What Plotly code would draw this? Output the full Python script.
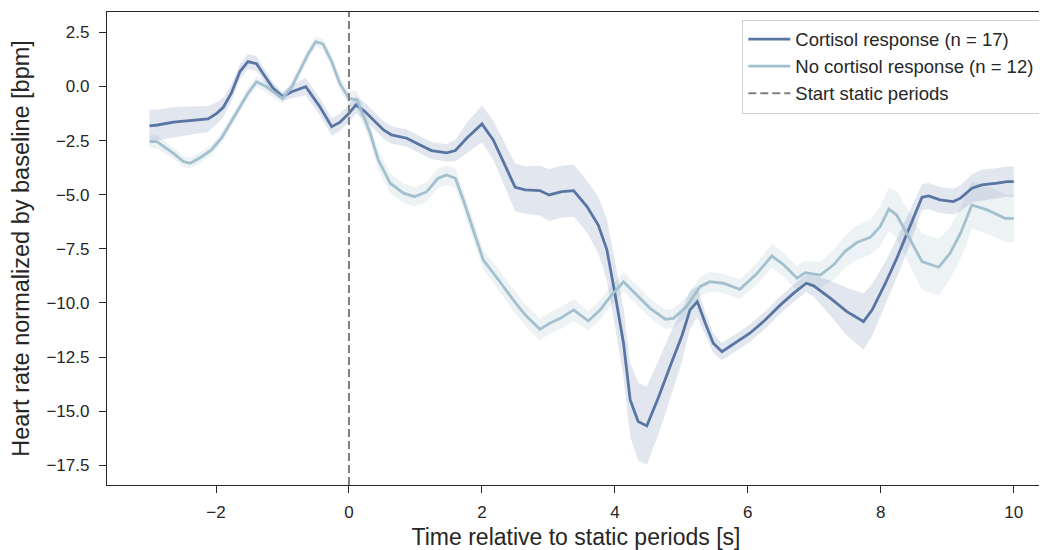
import plotly.graph_objects as go

# ---- data ----
t_cort = [-3.0, -2.88, -2.64, -2.39, -2.12, -1.99, -1.89, -1.77, -1.64, -1.52, -1.39, -1.26, -1.14, -1.0,
          -0.86, -0.65, -0.44, -0.26, -0.14, 0.0, 0.105, 0.24, 0.37, 0.52, 0.64, 0.87, 1.07, 1.24, 1.47,
          1.60, 1.77, 2.0, 2.17, 2.32, 2.50, 2.65, 2.87, 3.01, 3.20, 3.38, 3.58, 3.75, 3.88, 4.0, 4.13,
          4.23, 4.35, 4.48, 4.65, 4.83, 5.01, 5.13, 5.24, 5.36, 5.48, 5.61, 5.81, 6.03, 6.26, 6.49, 6.69,
          6.88, 6.99, 7.24, 7.49, 7.74, 7.87, 8.07, 8.24, 8.44, 8.62, 8.72, 8.89, 9.09, 9.20, 9.37, 9.52,
          9.75, 9.90, 10.0]
v_cort = [-1.82, -1.78, -1.65, -1.58, -1.50, -1.24, -0.96, -0.31, 0.69, 1.15, 1.05, 0.45, -0.08, -0.47,
          -0.24, -0.01, -0.93, -1.86, -1.66, -1.24, -0.85, -1.16, -1.55, -2.01, -2.24, -2.39, -2.70, -2.96, -3.07,
          -2.96, -2.39, -1.73, -2.47, -3.45, -4.66, -4.78, -4.81, -5.01, -4.86, -4.81, -5.55, -6.40, -7.55, -9.55, -11.86,
          -14.48, -15.48, -15.68, -14.40, -12.94, -11.50, -10.32, -9.94, -10.94, -11.86, -12.25, -11.86, -11.40, -10.79, -10.09, -9.55,
          -9.09, -9.21, -9.78, -10.40, -10.86, -10.32, -9.09, -7.94, -6.48, -5.12, -5.06, -5.24, -5.32, -5.16, -4.70, -4.55,
          -4.47, -4.40, -4.40]
ci_cort = [0.75, 0.7, 0.7, 0.65, 0.6, 0.5, 0.45, 0.4, 0.35, 0.35, 0.35, 0.3, 0.25, 0.2,
           0.3, 0.4, 0.4, 0.4, 0.4, 0.4, 0.4, 0.4, 0.4, 0.4, 0.4, 0.4, 0.4, 0.4, 0.4,
           0.5, 0.7, 0.85, 0.9, 1.0, 1.1, 1.1, 1.15, 1.2, 1.2, 1.2, 1.2, 1.3, 1.4, 1.5, 1.6,
           1.7, 1.8, 1.8, 1.7, 1.5, 1.2, 0.9, 0.7, 0.5, 0.45, 0.4, 0.4, 0.4, 0.4, 0.4, 0.4,
           0.4, 0.5, 0.8, 1.1, 1.3, 1.2, 1.0, 0.9, 0.8, 0.6, 0.6, 0.6, 0.6, 0.6, 0.65, 0.7,
           0.7, 0.7, 0.7]

t_nocort = [-3.0, -2.89, -2.64, -2.49, -2.39, -2.24, -2.07, -1.92, -1.77, -1.64, -1.52, -1.39, -1.26, -1.14,
            -1.0, -0.86, -0.74, -0.61, -0.50, -0.39, -0.26, -0.14, 0.0, 0.12, 0.32, 0.44, 0.62, 0.82, 0.99,
            1.17, 1.34, 1.47, 1.60, 1.72, 1.87, 2.02, 2.27, 2.47, 2.65, 2.87, 3.02, 3.18, 3.38, 3.60, 3.78,
            3.93, 4.13, 4.33, 4.53, 4.76, 4.88, 5.08, 5.28, 5.43, 5.63, 5.88, 6.14, 6.36, 6.54, 6.74, 6.86,
            7.09, 7.29, 7.46, 7.64, 7.84, 7.99, 8.12, 8.24, 8.39, 8.62, 8.87, 9.04, 9.20, 9.37, 9.60, 9.87, 10.0]
v_nocort = [-2.55, -2.55, -3.09, -3.47, -3.55, -3.29, -2.93, -2.39, -1.62, -0.93, -0.31, 0.22, 0.02, -0.24,
            -0.55, -0.01, 0.76, 1.53, 2.07, 1.96, 1.15, 0.15, -0.55, -0.62, -2.16, -3.39, -4.47, -4.93, -5.09,
            -4.86, -4.24, -4.09, -4.24, -5.24, -6.63, -8.01, -9.02, -9.86, -10.55, -11.22, -10.94, -10.71, -10.32, -10.83, -10.32,
            -9.71, -9.02, -9.63, -10.25, -10.75, -10.71, -10.17, -9.25, -9.02, -9.09, -9.37, -8.63, -7.83, -8.24, -8.86, -8.60,
            -8.71, -8.24, -7.63, -7.21, -6.97, -6.48, -5.67, -5.94, -6.78, -8.09, -8.35, -7.71, -6.78, -5.47, -5.70, -6.09, -6.09]
ci_nocort = [0.3, 0.3, 0.25, 0.25, 0.25, 0.25, 0.25, 0.25, 0.25, 0.25, 0.25, 0.25, 0.25, 0.25,
             0.25, 0.25, 0.25, 0.25, 0.25, 0.25, 0.3, 0.3, 0.35, 0.4, 0.4, 0.45, 0.45, 0.45, 0.45,
             0.45, 0.45, 0.45, 0.45, 0.45, 0.45, 0.45, 0.5, 0.5, 0.5, 0.5, 0.5, 0.5, 0.5, 0.45, 0.45,
             0.45, 0.45, 0.45, 0.45, 0.45, 0.45, 0.45, 0.45, 0.45, 0.45, 0.45, 0.5, 0.55, 0.55, 0.55, 0.55,
             0.6, 0.7, 0.75, 0.8, 0.8, 0.9, 1.0, 1.1, 1.2, 1.3, 1.3, 1.2, 1.2, 1.1, 1.1, 1.1, 1.1]

start_static = 0.0
x_ticks = [-2, 0, 2, 4, 6, 8, 10]
y_ticks = [2.5, 0.0, -2.5, -5.0, -7.5, -10.0, -12.5, -15.0, -17.5]

names = ["Cortisol response (n = 17)", "No cortisol response (n = 12)", "Start static periods"]
x_range = [-3.64, 10.47]
y_range = [-18.41, 3.44]

DARK = "rgb(89,117,164)"
LIGHT = "rgb(163,192,207)"
DARK_BAND = "rgba(89,117,164,0.18)"
LIGHT_BAND = "rgba(163,192,207,0.2)"
FONT = "Liberation Sans, Arial, sans-serif"
TXT = "#262626"


def band(t, v, ci, color):
    upper = [a + b for a, b in zip(v, ci)]
    lower = [a - b for a, b in zip(v, ci)]
    return go.Scatter(x=list(t) + list(t[::-1]), y=upper + lower[::-1], fill="toself",
                      fillcolor=color, line=dict(width=0), mode="lines",
                      hoverinfo="skip", showlegend=False)


fig = go.Figure()
fig.add_trace(band(t_nocort, v_nocort, ci_nocort, LIGHT_BAND))
fig.add_trace(band(t_cort, v_cort, ci_cort, DARK_BAND))
fig.add_trace(go.Scatter(x=t_cort, y=v_cort, mode="lines", name=names[0],
                         line=dict(color=DARK, width=2.8)))
fig.add_trace(go.Scatter(x=t_nocort, y=v_nocort, mode="lines", name=names[1],
                         line=dict(color=LIGHT, width=2.8)))
fig.add_trace(go.Scatter(x=[start_static, start_static], y=y_range, mode="lines", name=names[2],
                         line=dict(color="rgb(128,128,128)", width=2, dash="8px,4px")))

axis_common = dict(showline=True, linecolor=TXT, linewidth=1.3, mirror=True,
                   ticks="outside", ticklen=7, tickwidth=1.3, tickcolor=TXT,
                   showgrid=False, zeroline=False, automargin=False,
                   tickfont=dict(family=FONT, size=17, color=TXT))


def fmt(v):
    return f"{v:.1f}".replace("-", "\u2212")


# the page body has an 8px default margin, so the figure is sized to fit the window
fig.update_layout(
    width=1039, height=542,
    margin=dict(l=99, r=2, t=4, b=65),
    paper_bgcolor="white", plot_bgcolor="white",
    font=dict(family=FONT, color=TXT),
    xaxis=dict(range=x_range, tickvals=x_ticks,
               ticktext=[str(v).replace("-", "\u2212") for v in x_ticks],
               title=dict(text="Time relative to static periods [s]",
                          font=dict(size=23, color=TXT, family=FONT), standoff=10),
               ticklabelstandoff=4,
               **axis_common),
    yaxis=dict(range=y_range, tickvals=y_ticks, ticktext=[fmt(v) for v in y_ticks],
               title=dict(text="Heart rate normalized by baseline [bpm]",
                          font=dict(size=23.5, color=TXT, family=FONT), standoff=10),
               ticklabelstandoff=6,
               **axis_common),
    legend=dict(x=0.995, y=0.984, xanchor="right", yanchor="top",
                bgcolor="rgba(255,255,255,0.85)", bordercolor="#d0d0d0", borderwidth=1,
                font=dict(size=18.5, color=TXT, family=FONT), tracegroupgap=0,
                itemwidth=42),
    showlegend=True,
)

fig.write_html("out.html")
